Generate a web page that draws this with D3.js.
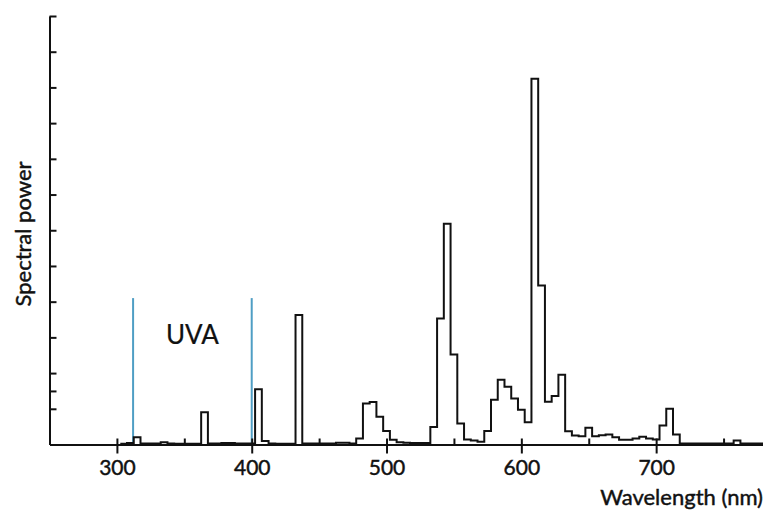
<!DOCTYPE html>
<html>
<head>
<meta charset="utf-8">
<script src="https://cdn.jsdelivr.net/npm/d3@7"></script>
<style>
  html, body { margin: 0; padding: 0; background: #fff; }
  svg { display: block; }
  text { font-family: Lato, "Open Sans", sans-serif; fill: #111; stroke: #111; stroke-width: 0.45px; }
</style>
</head>
<body>
<svg id="chart" width="763" height="512"></svg>
<script>
// ---- data ----
const binWidth = 5; // nm
const binCenters = [
  305,310,315,320,325,330,335,340,345,350,355,360,365,370,375,380,385,390,395,400,
  405,410,415,420,425,430,435,440,445,450,455,460,465,470,475,480,485,490,495,500,
  505,510,515,520,525,530,535,540,545,550,555,560,565,570,575,580,585,590,595,600,
  605,610,615,620,625,630,635,640,645,650,655,660,665,670,675,680,685,690,695,700,
  705,710,715,720,725,730,735,740,745,750,755,760,765,770,775,780
];
const spectralPower = [
  0.02,0.04,0.20,0.03,0.03,0.03,0.06,0.03,0.02,0.02,0.02,0.02,0.90,0.03,0.03,0.04,0.04,0.03,0.03,0.03,
  1.55,0.10,0.03,0.02,0.02,0.02,3.63,0.03,0.03,0.03,0.03,0.03,0.05,0.05,0.03,0.17,1.15,1.19,0.78,0.38,
  0.13,0.06,0.05,0.04,0.04,0.04,0.49,3.53,6.18,2.52,0.59,0.14,0.11,0.08,0.38,1.25,1.81,1.62,1.29,0.97,
  0.62,10.24,4.45,1.20,1.36,1.95,0.37,0.25,0.23,0.47,0.23,0.26,0.28,0.20,0.13,0.13,0.17,0.22,0.17,0.14,
  0.53,1.00,0.28,0.03,0.03,0.03,0.03,0.03,0.03,0.03,0.03,0.11,0.03,0.03,0.03,0.03
];
const majorTicks = [300, 400, 500, 600, 700];
const minorTicks = [350, 450, 550, 650, 750];
const yTicks = [1, 1.5, 2, 3, 4, 5, 6, 7, 8, 9, 10, 11, 12];
const uvaBounds = [312, 400];
const uvaTop = 4.1;
const uvaLabel = "UVA";
const uvaLabelPos = [356, 2.82];
const xTitle = "Wavelength (nm)";
const yTitle = "Spectral power";

// ---- scales ----
const svg = d3.select("#chart");
const x = d3.scaleLinear().domain([250, 780]).range([49.5, 764]);
const y = d3.scaleLinear().domain([0, 12]).range([444.5, 16]);
const y0 = y(0);

// ---- blue UVA lines ----
svg.append("g").selectAll("line").data(uvaBounds).join("line")
  .attr("x1", d => x(d)).attr("x2", d => x(d))
  .attr("y1", y(0)).attr("y2", y(uvaTop))
  .attr("stroke", "#4f9ec4").attr("stroke-width", 2);

// ---- spectrum step outline ----
const pts = binCenters.map((c, i) => [c - binWidth / 2, spectralPower[i]]);
pts.push([binCenters[binCenters.length - 1] + binWidth / 2, spectralPower[spectralPower.length - 1]]);
const line = d3.line().x(d => x(d[0])).y(d => y(d[1])).curve(d3.curveStepAfter);
svg.append("path").datum(pts)
  .attr("d", line)
  .attr("fill", "none").attr("stroke", "#111").attr("stroke-width", 2)
  .attr("stroke-linejoin", "miter");

// ---- y axis (ticks inward, no labels) ----
const yAxis = d3.axisLeft(y).tickValues(yTicks).tickSize(-7).tickSizeOuter(0).tickFormat("");
const gy = svg.append("g").attr("transform", `translate(${x(250)},0)`).call(yAxis);
gy.select(".domain").attr("stroke", "#111").attr("stroke-width", 2);
gy.selectAll(".tick line").attr("stroke", "#111").attr("stroke-width", 2);

// ---- x axis ----
const xAxis = d3.axisBottom(x).tickValues(majorTicks).tickSize(9).tickSizeOuter(0).tickPadding(6);
const gx = svg.append("g").attr("transform", `translate(0,${y0})`).call(xAxis);
gx.select(".domain").attr("stroke", "#111").attr("stroke-width", 2);
gx.selectAll(".tick line").attr("stroke", "#111").attr("stroke-width", 2).attr("y1", -6);
gx.selectAll(".tick text").attr("font-size", 21).attr("fill", "#111")
  .style("font-family", "Lato, 'Open Sans', sans-serif").attr("dy", "0.72em");

const xMinor = d3.axisBottom(x).tickValues(minorTicks).tickSize(-6).tickSizeOuter(0).tickFormat("");
const gxm = svg.append("g").attr("transform", `translate(0,${y0})`).call(xMinor);
gxm.select(".domain").remove();
gxm.selectAll(".tick line").attr("stroke", "#111").attr("stroke-width", 2);

// ---- labels ----
svg.append("text").attr("x", x(uvaLabelPos[0])).attr("y", y(uvaLabelPos[1]))
  .attr("text-anchor", "middle").attr("font-size", 26)
  .style("stroke-width", "0.2px").text(uvaLabel);

svg.append("text").attr("x", 763).attr("y", 505)
  .attr("text-anchor", "end").attr("font-size", 22).text(xTitle);

svg.append("text").attr("transform", "translate(31,234) rotate(-90)")
  .attr("text-anchor", "middle").attr("font-size", 22).text(yTitle);
</script>
</body>
</html>
